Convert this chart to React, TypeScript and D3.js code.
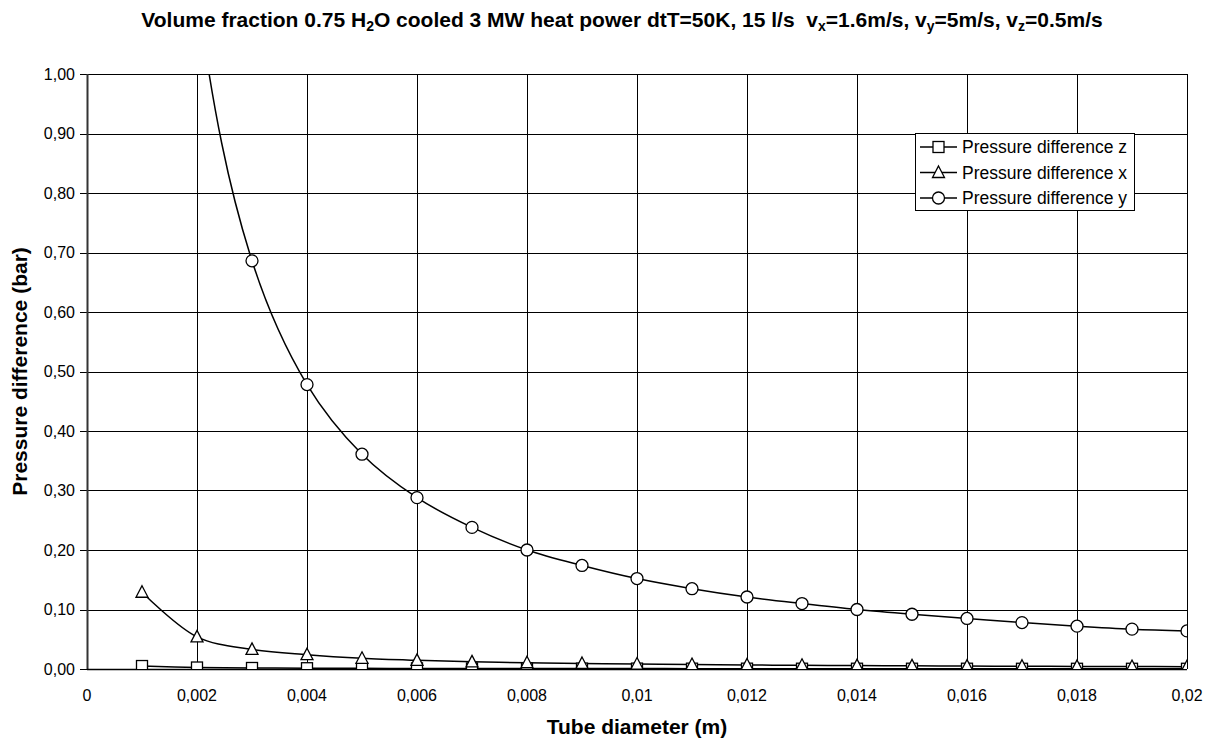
import React from "react";
import * as d3 from "d3";

const diameters = [0.001, 0.002, 0.003, 0.004, 0.005, 0.006, 0.007, 0.008, 0.009, 0.010, 0.011, 0.012, 0.013, 0.014, 0.015, 0.016, 0.017, 0.018, 0.019, 0.020];
const pressureZ = [0.005, 0.0025, 0.0017, 0.0013, 0.0011, 0.0010, 0.0009, 0.0008, 0.0007, 0.0007, 0.0006, 0.0006, 0.0005, 0.0005, 0.0005, 0.0005, 0.0004, 0.0004, 0.0004, 0.0004];
const pressureX = [0.129, 0.054, 0.033, 0.024, 0.018, 0.0145, 0.012, 0.0105, 0.0093, 0.0083, 0.0075, 0.0068, 0.0062, 0.0057, 0.0053, 0.0049, 0.0046, 0.0043, 0.0041, 0.0039];
const pressureY = [2.70, 1.14, 0.686, 0.478, 0.361, 0.288, 0.238, 0.200, 0.174, 0.152, 0.135, 0.121, 0.110, 0.100, 0.092, 0.085, 0.078, 0.072, 0.067, 0.064];

const xTicks = [0, 0.002, 0.004, 0.006, 0.008, 0.01, 0.012, 0.014, 0.016, 0.018, 0.02];
const xTickLabels = ["0", "0,002", "0,004", "0,006", "0,008", "0,01", "0,012", "0,014", "0,016", "0,018", "0,02"];
const yTicks = [0, 0.1, 0.2, 0.3, 0.4, 0.5, 0.6, 0.7, 0.8, 0.9, 1.0];
const yTickLabels = ["0,00", "0,10", "0,20", "0,30", "0,40", "0,50", "0,60", "0,70", "0,80", "0,90", "1,00"];

const seriesNames = ["Pressure difference z", "Pressure difference x", "Pressure difference y"];
const seriesMarkers = ["square", "triangle", "circle"];

const W = 1220;
const H = 740;
const M = { left: 87, right: 1187, top: 74, bottom: 669 };
const FONT = "'Liberation Sans', Arial, sans-serif";

function Marker({ type, x, y }: { type: string; x: number; y: number }) {
  const common = { fill: "white", stroke: "black", strokeWidth: 1.3 };
  if (type === "square") return <rect x={x - 5.5} y={y - 5.5} width={11} height={11} {...common} />;
  if (type === "triangle") {
    const p = `${x},${y - 6.5} ${x + 6},${y + 5} ${x - 6},${y + 5}`;
    return <polygon points={p} {...common} />;
  }
  return <circle cx={x} cy={y} r={6} {...common} />;
}

export default function App() {
  const x = d3.scaleLinear().domain([0, 0.02]).range([M.left, M.right]);
  const y = d3.scaleLinear().domain([0, 1]).range([M.bottom, M.top]);
  const all = [pressureZ, pressureX, pressureY];
  const line = d3
    .line<[number, number]>()
    .x((d) => x(d[0]))
    .y((d) => y(d[1]))
    .curve(d3.curveCatmullRom.alpha(0.5));

  const legX = 915, legY = 133, legW = 219, legH = 77;
  const TS = 21;
  const SUB = 14;

  return (
    <svg width={W} height={H} style={{ position: "absolute", left: 0, top: 0, background: "white" }} fontFamily={FONT}>
      <defs>
        <clipPath id="plotclip">
          <rect x={M.left} y={M.top} width={M.right - M.left} height={M.bottom - M.top} />
        </clipPath>
      </defs>
      <rect x={0} y={0} width={W} height={H} fill="white" />
      {/* title */}
      <text x={622} y={27} textAnchor="middle" fontWeight="bold" fontSize={TS} fill="black">
        Volume fraction 0.75 H<tspan fontSize={SUB} dy={4}>2</tspan>
        <tspan dy={-4}>O cooled 3 MW heat power dtT=50K, 15 l/s{"\u00a0\u00a0"}v</tspan>
        <tspan fontSize={SUB} dy={4}>x</tspan>
        <tspan dy={-4}>=1.6m/s, v</tspan>
        <tspan fontSize={SUB} dy={4}>y</tspan>
        <tspan dy={-4}>=5m/s, v</tspan>
        <tspan fontSize={SUB} dy={4}>z</tspan>
        <tspan dy={-4}>=0.5m/s</tspan>
      </text>

      {/* grid */}
      {yTicks.map((t, i) => (
        <line key={"gy" + i} x1={M.left} x2={M.right} y1={Math.round(y(t)) + 0.5} y2={Math.round(y(t)) + 0.5} stroke="black" strokeWidth={1} />
      ))}
      {xTicks.map((t, i) => (
        <line key={"gx" + i} x1={Math.round(x(t)) + 0.5} x2={Math.round(x(t)) + 0.5} y1={M.top} y2={M.bottom} stroke="black" strokeWidth={1} />
      ))}
      {/* y axis ticks */}
      {yTicks.map((t, i) => (
        <line key={"ty" + i} x1={M.left - 7} x2={M.left} y1={Math.round(y(t)) + 0.5} y2={Math.round(y(t)) + 0.5} stroke="black" strokeWidth={1} />
      ))}
      <line x1={M.left + 0.5} x2={M.left + 0.5} y1={M.top} y2={M.bottom} stroke="#333" strokeWidth={2} />
      <line x1={M.left} x2={M.right} y1={M.bottom + 0.5} y2={M.bottom + 0.5} stroke="black" strokeWidth={1.5} />

      {/* tick labels */}
      {yTicks.map((t, i) => (
        <text key={"ly" + i} x={M.left - 12} y={y(t) + 5.5} textAnchor="end" fontSize={16} fill="black">
          {yTickLabels[i]}
        </text>
      ))}
      {xTicks.map((t, i) => (
        <text key={"lx" + i} x={x(t)} y={M.bottom + 32} textAnchor="middle" fontSize={16} fill="black">
          {xTickLabels[i]}
        </text>
      ))}

      {/* axis titles */}
      <text x={(M.left + M.right) / 2} y={734} textAnchor="middle" fontWeight="bold" fontSize={TS} fill="black">
        Tube diameter (m)
      </text>
      <text transform={`translate(27, ${(M.top + M.bottom) / 2}) rotate(-90)`} textAnchor="middle" fontWeight="bold" fontSize={TS} fill="black">
        Pressure difference (bar)
      </text>

      {/* series */}
      <g clipPath="url(#plotclip)">
        {all.map((vals, si) => (
          <path key={"p" + si} d={line(diameters.map((d, i) => [d, vals[i]] as [number, number])) || ""} fill="none" stroke="black" strokeWidth={1.5} />
        ))}
        {all.map((vals, si) =>
          diameters.map((d, i) => <Marker key={"m" + si + "-" + i} type={seriesMarkers[si]} x={x(d)} y={y(vals[i])} />)
        )}
      </g>

      {/* legend */}
      <rect x={legX + 0.5} y={legY + 0.5} width={legW} height={legH} fill="white" stroke="black" strokeWidth={1} />
      {seriesNames.map((n, i) => {
        const cy = legY + 14 + i * 25.5;
        return (
          <g key={"leg" + i}>
            <line x1={legX + 5} x2={legX + 42} y1={cy} y2={cy} stroke="black" strokeWidth={1.5} />
            <Marker type={seriesMarkers[i]} x={legX + 23.5} y={cy} />
            <text x={legX + 47} y={cy + 6} fontSize={17.5} fill="black">
              {n}
            </text>
          </g>
        );
      })}
    </svg>
  );
}
